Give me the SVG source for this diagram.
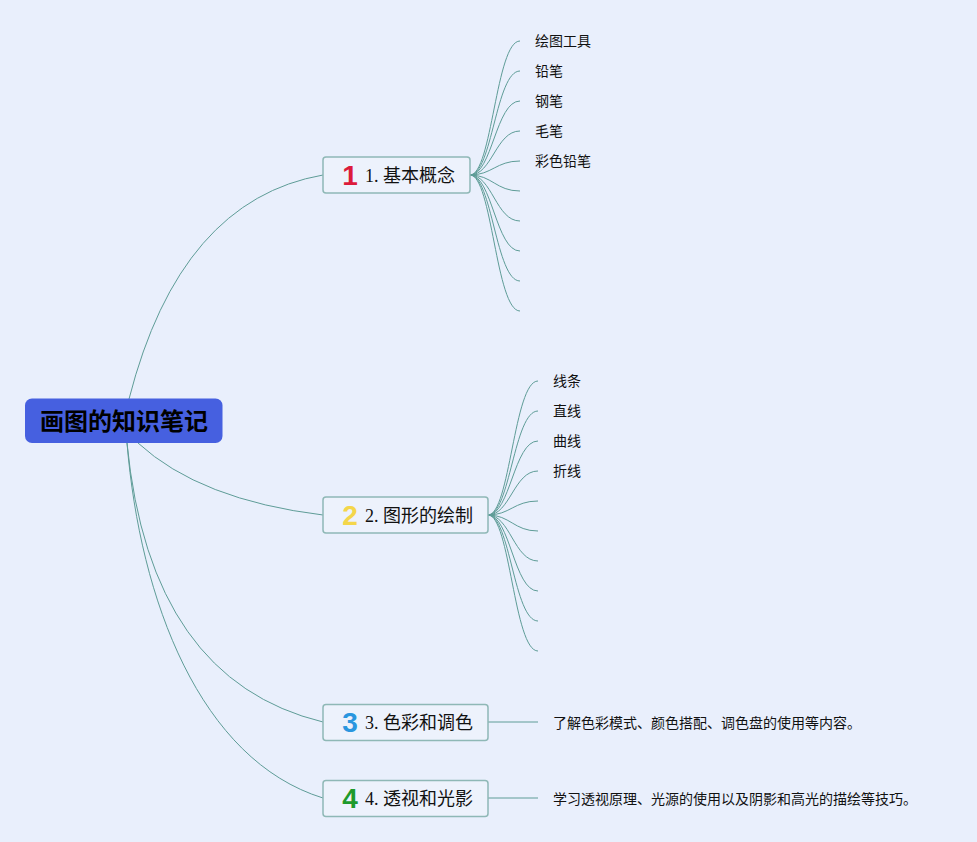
<svg xmlns="http://www.w3.org/2000/svg" width="977" height="842" viewBox="0 0 977 842">
<style>
.bg{fill:#e9effc}
.ln{fill:none;stroke:#5e9c97;stroke-width:1}
.box{fill:#edf2fc;stroke:#8fb8b6;stroke-width:1.5}
.root{fill:#4660e0}
.rt{font-family:"Noto Sans CJK SC","Liberation Sans",sans-serif;font-size:24px;font-weight:bold;fill:#000}
.nt{font-family:"Liberation Serif","Noto Sans CJK SC",serif;font-size:18px;fill:#111}
.bd{font-family:"Liberation Sans","Noto Sans CJK SC",sans-serif;font-size:28px;font-weight:bold}
.ct{font-family:"Noto Sans CJK SC","Liberation Sans",sans-serif;font-size:14px;fill:#111}
</style>
<rect class="bg" x="0" y="0" width="977" height="842"/>
<g id="connectors">
<path class="ln" d="M129,399 Q180,200 323,175"/>
<path class="ln" d="M138,443 Q200,500 323,515"/>
<path class="ln" d="M127,443 Q150,680 323,722"/>
<path class="ln" d="M127,443 C140,600 200,760 323,798"/>
<path class="ln" d="M470,175 C492,175 496,41 520,41"/>
<path class="ln" d="M470,175 C492,175 496,71 520,71"/>
<path class="ln" d="M470,175 C492,175 496,101 520,101"/>
<path class="ln" d="M470,175 C492,175 496,131 520,131"/>
<path class="ln" d="M470,175 C492,175 496,161 520,161"/>
<path class="ln" d="M470,175 C492,175 496,191 520,191"/>
<path class="ln" d="M470,175 C492,175 496,221 520,221"/>
<path class="ln" d="M470,175 C492,175 496,251 520,251"/>
<path class="ln" d="M470,175 C492,175 496,281 520,281"/>
<path class="ln" d="M470,175 C492,175 496,311 520,311"/>
<path class="ln" d="M488,515 C510,515 514,381 538,381"/>
<path class="ln" d="M488,515 C510,515 514,411 538,411"/>
<path class="ln" d="M488,515 C510,515 514,441 538,441"/>
<path class="ln" d="M488,515 C510,515 514,471 538,471"/>
<path class="ln" d="M488,515 C510,515 514,501 538,501"/>
<path class="ln" d="M488,515 C510,515 514,531 538,531"/>
<path class="ln" d="M488,515 C510,515 514,561 538,561"/>
<path class="ln" d="M488,515 C510,515 514,591 538,591"/>
<path class="ln" d="M488,515 C510,515 514,621 538,621"/>
<path class="ln" d="M488,515 C510,515 514,651 538,651"/>
<path class="ln" d="M488,722 L538,722"/>
<path class="ln" d="M488,798 L538,798"/>
</g>
<g id="root">
<rect class="root" x="25" y="398.5" width="197.5" height="44.5" rx="7"/>
<text class="rt" x="124" y="430" text-anchor="middle">画图的知识笔记</text>
</g>
<g id="n1">
<rect class="box" x="323" y="157" width="147" height="36" rx="3"/>
<text class="bd" x="350" y="185" text-anchor="middle" fill="#dc1b3b">1</text>
<text class="nt" x="365" y="182">1. 基本概念</text>
</g>
<g id="n2">
<rect class="box" x="323" y="497" width="165" height="36" rx="3"/>
<text class="bd" x="350" y="525" text-anchor="middle" fill="#f4d64a">2</text>
<text class="nt" x="365" y="522">2. 图形的绘制</text>
</g>
<g id="n3">
<rect class="box" x="323" y="704.5" width="165" height="36" rx="3"/>
<text class="bd" x="350" y="732" text-anchor="middle" fill="#2a96df">3</text>
<text class="nt" x="365" y="729">3. 色彩和调色</text>
</g>
<g id="n4">
<rect class="box" x="323" y="780.5" width="165" height="36" rx="3"/>
<text class="bd" x="350" y="808" text-anchor="middle" fill="#1e9a2c">4</text>
<text class="nt" x="365" y="805">4. 透视和光影</text>
</g>
<g id="c1">
<text class="ct" x="535" y="46">绘图工具</text>
<text class="ct" x="535" y="76">铅笔</text>
<text class="ct" x="535" y="106">钢笔</text>
<text class="ct" x="535" y="136">毛笔</text>
<text class="ct" x="535" y="166">彩色铅笔</text>
</g>
<g id="c2">
<text class="ct" x="553" y="386">线条</text>
<text class="ct" x="553" y="416">直线</text>
<text class="ct" x="553" y="446">曲线</text>
<text class="ct" x="553" y="476">折线</text>
</g>
<g id="c3">
<text class="ct" x="553" y="728">了解色彩模式、颜色搭配、调色盘的使用等内容。</text>
</g>
<g id="c4">
<text class="ct" x="553" y="804">学习透视原理、光源的使用以及阴影和高光的描绘等技巧。</text>
</g>
</svg>
